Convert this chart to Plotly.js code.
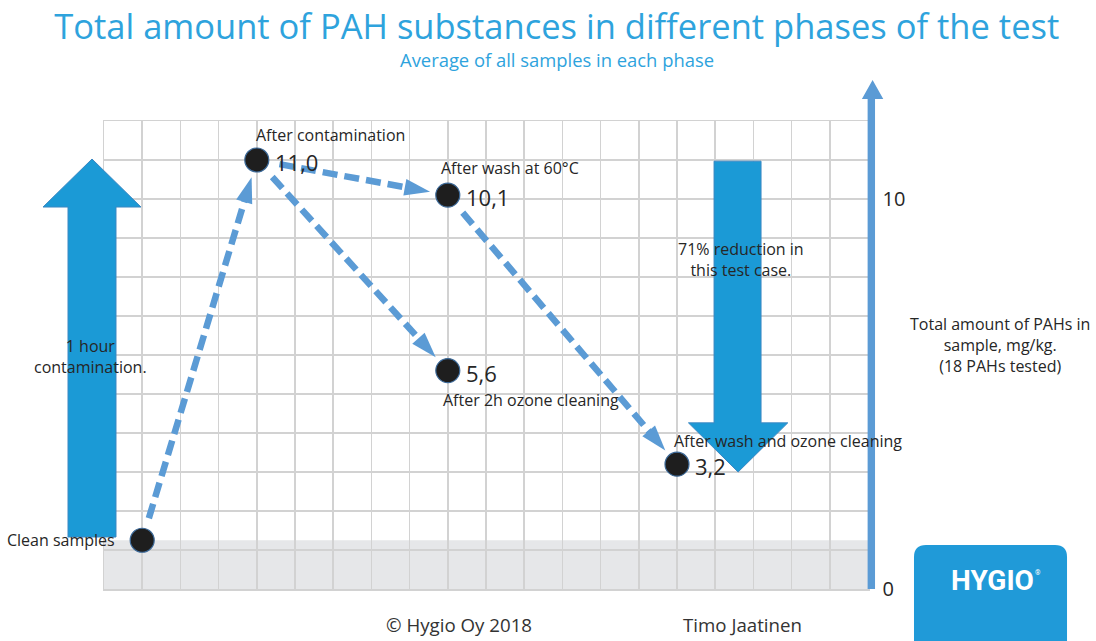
<!DOCTYPE html>
<html>
<head>
<meta charset="utf-8">
<script src="https://cdn.plot.ly/plotly-3.0.1.min.js"></script>
<style>html,body{margin:0;padding:0;background:#fff;}#chart{width:1096px;height:641px;}</style>
</head>
<body>
<div id="chart"></div>
<script>
// ---- data ----
const phases = ["Clean samples", "After contamination", "After wash at 60°C", "After 2h ozone cleaning", "After wash and ozone cleaning"];
const phaseX = [1, 4, 9, 9, 15];
const pahValues = [1.25, 11.0, 10.1, 5.6, 3.2];
const linkFrom = [0, 1, 1, 2];
const linkTo = [1, 2, 3, 4];
const yTickVals = [0, 10];
const yTickText = ["0", "10"];

// ---- layout constants ----
const W = 1096, H = 641;
const M = {l: 104, r: 228, t: 121, b: 52};
const xRange = [0, 20], yRange = [0, 12];
const FONT = "'Open Sans', sans-serif";
const TXT = "#262626";
const BLUE_DASH = "#5b9bd5";
const BLUE_ARROW = "#1b9ad6";
const TITLE_BLUE = "#2ea3dd";
const GRID = "#d2d2d2";

const pxX = (W - M.l - M.r) / (xRange[1] - xRange[0]);
const pxY = (H - M.t - M.b) / (yRange[1] - yRange[0]);

const traces = [];
// dashed arrows between phases
const startGap = 23, endGap = 18;
for (let k = 0; k < linkFrom.length; k++) {
  const i = linkFrom[k], j = linkTo[k];
  const dx = phaseX[j] - phaseX[i], dy = pahValues[j] - pahValues[i];
  const len = Math.hypot(dx * pxX, dy * pxY);
  const f0 = startGap / len, f1 = 1 - endGap / len;
  traces.push({
    type: "scatter", mode: "lines+markers", hoverinfo: "skip", showlegend: false,
    x: [phaseX[i] + dx * f0, phaseX[i] + dx * f1],
    y: [pahValues[i] + dy * f0, pahValues[i] + dy * f1],
    line: {color: BLUE_DASH, width: 6.5, dash: "15px,7px"},
    marker: {symbol: ["circle", "arrow"], size: [0, 27], color: BLUE_DASH, opacity: 1, angleref: "previous", line: {width: 0}}
  });
}
// points
traces.push({
  type: "scatter", mode: "markers", showlegend: false, hoverinfo: "x+y",
  x: phaseX, y: pahValues,
  marker: {size: 24, color: "#1e1e1e", opacity: 1, line: {color: "#3d6a99", width: 1.2}}
});

const annotations = [];
// value labels (not for clean samples)
for (let i = 1; i < phases.length; i++) {
  annotations.push({
    x: phaseX[i], y: pahValues[i], xref: "x", yref: "y", xanchor: "left", yanchor: "middle",
    xshift: 17, yshift: -2, showarrow: false, borderpad: 0,
    text: pahValues[i].toFixed(1).replace(".", ","),
    font: {family: FONT, size: 22, color: TXT}
  });
}
// phase labels
const nameShift = [[-26, 0, "right"], [-2, 25, "left"], [-8, 27, "left"], [-6, -29, "left"], [-4, 23, "left"]];
for (let i = 0; i < phases.length; i++) {
  annotations.push({
    x: phaseX[i], y: pahValues[i], xref: "x", yref: "y", xanchor: nameShift[i][2], yanchor: "middle",
    xshift: nameShift[i][0], yshift: nameShift[i][1], showarrow: false, borderpad: 0,
    text: phases[i], font: {family: FONT, size: 16, color: TXT}
  });
}
// free texts
const freeText = (x, y, text, size, color, extra) => Object.assign({
  x: x, y: y, xref: "paper", yref: "paper", xanchor: "center", yanchor: "middle",
  showarrow: false, borderpad: 0, text: text, font: {family: FONT, size: size, color: color}
}, extra || {});
annotations.push(freeText(-0.0183, 0.4960, "1 hour<br>contamination.", 16, TXT, {align: "center"}));
annotations.push(freeText(0.8338, 0.7030, "71% reduction in<br>this test case.", 16, TXT, {align: "center"}));
annotations.push(freeText(1.1728, 0.5208, "Total amount of PAHs in<br>sample, mg/kg.<br>(18 PAHs tested)", 16, TXT, {align: "center"}));
annotations.push(freeText(0.5929, 1.1306, "Average of all samples in each phase", 18.4, TITLE_BLUE));
annotations.push(freeText(0.4647, -0.0769, "© Hygio Oy 2018", 18.7, "#333333"));
annotations.push(freeText(0.8351, -0.0769, "Timo Jaatinen", 18.7, "#333333"));
annotations.push(freeText(1.1636, 0.0171, "<b>HYGIO</b>", 28, "#ffffff", {font: {family: "Roboto, sans-serif", size: 28, color: "#ffffff"}}));
annotations.push(freeText(1.2226, 0.0341, "®", 7, "#ffffff", {font: {family: "Roboto, sans-serif", size: 7, color: "#ffffff"}}));

const shapes = [
  // grey band under clean level
  {type: "rect", xref: "x", yref: "y", x0: 0, x1: 20, y0: 0, y1: pahValues[0], fillcolor: "#e6e7e9", line: {width: 0}, layer: "below"},
  // left up arrow
  {type: "path", xref: "paper", yref: "paper", layer: "above",
   path: "M -0.0471 0.1111 L 0.0157 0.1111 L 0.0157 0.8162 L 0.0484 0.8162 L -0.0157 0.9188 L -0.0798 0.8162 L -0.0471 0.8162 Z",
   fillcolor: BLUE_ARROW, line: {color: "#3a87c2", width: 1}},
  // down arrow
  {type: "path", xref: "x", yref: "y", layer: "above",
   path: "M 15.97 10.97 L 17.2 10.97 L 17.2 4.26 L 17.9 4.26 L 16.6 3.0 L 15.3 4.26 L 15.97 4.26 Z",
   fillcolor: BLUE_ARROW, line: {color: "#3a87c2", width: 1}},
  // right axis arrow
  {type: "path", xref: "paper", yref: "paper", layer: "above",
   path: "M 0.9995 0 L 1.0092 0 L 1.0092 1.0470 L 1.0200 1.0470 L 1.0060 1.0876 L 0.9920 1.0470 L 0.9995 1.0470 Z",
   fillcolor: BLUE_DASH, line: {width: 0}},
  // logo box
  {type: "path", xref: "paper", yref: "paper", layer: "above",
   path: "M 1.0602 -0.13 L 1.0602 0.0684 Q 1.0602 0.094 1.0759 0.094 L 1.2448 0.094 Q 1.2605 0.094 1.2605 0.0684 L 1.2605 -0.13 Z",
   fillcolor: "#209ad8", line: {width: 0}}
];

const layout = {
  width: W, height: H, margin: M,
  paper_bgcolor: "#ffffff", plot_bgcolor: "#ffffff",
  showlegend: false,
  title: {text: "Total amount of PAH substances in different phases of the test",
          x: 0.508, xref: "container", xanchor: "center", y: 1 - 27 / H, yref: "container", yanchor: "middle",
          font: {family: FONT, size: 34.5, color: TITLE_BLUE}},
  xaxis: {range: xRange, dtick: 1, tick0: 0, showticklabels: false, ticks: "", showgrid: true,
          gridcolor: GRID, gridwidth: 1.5, zeroline: false, showline: true, mirror: true, linecolor: GRID, linewidth: 1.5, fixedrange: true},
  yaxis: {range: yRange, side: "right", tickvals: yTickVals, ticktext: yTickText, ticks: "", ticklabelstandoff: 9,
          showgrid: true, gridcolor: GRID, gridwidth: 1.5, zeroline: false, showline: true, mirror: true, linecolor: GRID, linewidth: 1.5,
          minor: {tick0: 0, dtick: 1, showgrid: true, gridcolor: GRID, gridwidth: 1.5, ticks: ""},
          tickfont: {family: FONT, size: 20, color: TXT}, fixedrange: true},
  shapes: shapes,
  annotations: annotations
};

Plotly.newPlot("chart", traces, layout, {displayModeBar: false, staticPlot: true});
</script>
</body>
</html>
